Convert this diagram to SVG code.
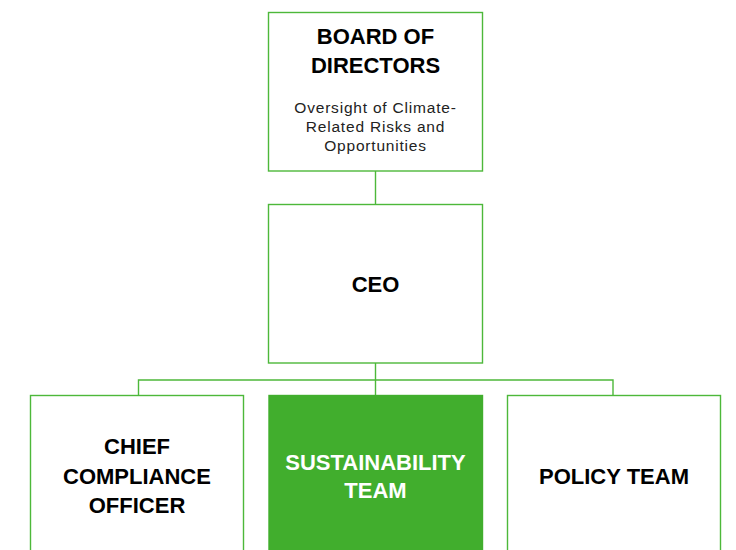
<svg xmlns="http://www.w3.org/2000/svg" width="736" height="550" viewBox="0 0 736 550">
<style>
.box{fill:#ffffff;stroke:#4db83a;stroke-width:1.4}
.hl{fill:#41ae2d;stroke:#41ae2d;stroke-width:1.4}
.t{font-family:"Liberation Sans",Arial,sans-serif;font-weight:bold;font-size:22px;fill:#000;text-anchor:middle}
.w{fill:#ffffff}
.s{font-family:"Liberation Sans",Arial,sans-serif;font-size:15.5px;fill:#222;text-anchor:middle;letter-spacing:0.8px}
.c{fill:none;stroke:#4db83a;stroke-width:1.4}
</style>
<rect width="736" height="550" fill="#ffffff"/>
<g id="connectors">
<line class="c" x1="375.5" y1="171" x2="375.5" y2="204"/>
<polyline class="c" points="375.5,363 375.5,380"/>
<polyline class="c" points="138.5,395 138.5,380 613,380 613,395"/>
<line class="c" x1="375.5" y1="380" x2="375.5" y2="395"/>
</g>
<g id="board">
<rect class="box" x="268.5" y="12.5" width="214" height="158.5"/>
<text class="t" x="375.5" y="44">BOARD OF</text>
<text class="t" x="375.5" y="73">DIRECTORS</text>
<text class="s" x="375.5" y="113">Oversight of Climate-</text>
<text class="s" x="375.5" y="132">Related Risks and</text>
<text class="s" x="375.5" y="151">Opportunities</text>
</g>
<g id="ceo">
<rect class="box" x="268.5" y="204.5" width="214" height="158.5"/>
<text class="t" x="375.5" y="292">CEO</text>
</g>
<g id="cco">
<rect class="box" x="30.5" y="395.5" width="213" height="170"/>
<text class="t" x="137" y="454">CHIEF</text>
<text class="t" x="137" y="484">COMPLIANCE</text>
<text class="t" x="137" y="513">OFFICER</text>
</g>
<g id="sustainability">
<rect class="hl" x="269" y="395.5" width="213.5" height="170"/>
<text class="t w" x="375.5" y="470">SUSTAINABILITY</text>
<text class="t w" x="375.5" y="498">TEAM</text>
</g>
<g id="policy">
<rect class="box" x="507.5" y="395.5" width="213" height="170"/>
<text class="t" x="614" y="484">POLICY TEAM</text>
</g>
</svg>
